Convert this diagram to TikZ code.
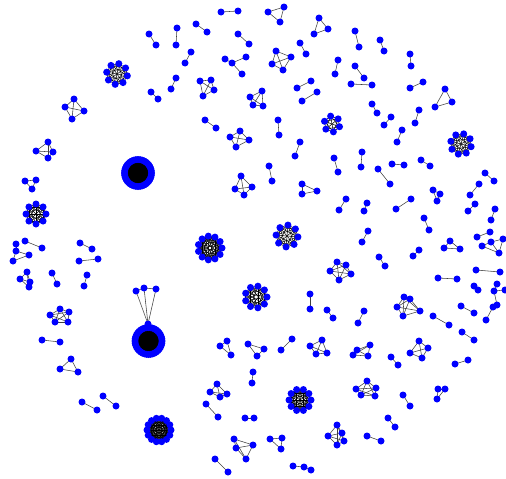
\documentclass[tikz,border=0pt]{standalone}
\pgfdeclarelayer{bg}
\pgfsetlayers{bg,main}
\tikzset{vx/.style={circle,fill=blue,draw=none,inner sep=0pt,minimum size=7pt},
ed/.style={draw=black!75,line width=0.55pt},
edd/.style={draw=black,line width=0.5pt}}
\newcommand\gcomp[3]{%
 \foreach \x/\y [count=\k] in {#2}{\node[vx] (#1-\k) at (\x,\y) {};}%
 \begin{pgfonlayer}{bg}\foreach \ia/\ib in {#3}{\draw[ed] (#1-\ia.center) -- (#1-\ib.center);}\end{pgfonlayer}}
\newcommand\gpair[2]{\gcomp{#1}{#2}{1/2}}
\newcommand\gclq[2]{%
 \foreach \x/\y [count=\k] in {#2}{\node[vx] (#1-\k) at (\x,\y) {};\xdef\gn{\k}}%
 \begin{pgfonlayer}{bg}\foreach \ia in {1,...,\gn}{\foreach \ib in {1,...,\gn}{\ifnum\ia<\ib\relax\draw[ed] (#1-\ia.center) -- (#1-\ib.center);\fi}}\end{pgfonlayer}}
\newcommand\gring[6]{%
 \foreach \k in {1,...,#4}{\pgfmathsetmacro\px{#2+#5*cos(#6+360*\k/#4)}\pgfmathsetmacro\py{#3+#5*sin(#6+360*\k/#4)}\node[vx] (#1-\k) at (\px,\py) {};}%
 \begin{pgfonlayer}{bg}\foreach \ia in {1,...,#4}{\foreach \ib in {1,...,#4}{\ifnum\ia<\ib\relax\draw[edd] (#1-\ia.center) -- (#1-\ib.center);\fi}}\end{pgfonlayer}}
\newcommand\gblob[4]{%
 \begin{pgfonlayer}{bg}\fill[black] (#2,#3) circle (#4pt);\end{pgfonlayer}%
 \foreach \k in {1,...,40}{\pgfmathsetmacro\px{#2+(#4+2.5)*cos(9*\k)}\pgfmathsetmacro\py{#3+(#4+2.5)*sin(9*\k)}\node[vx] (#1-\k) at (\px,\py) {};}}
\begin{document}
\begin{tikzpicture}[x=1pt,y=-1pt]
\begin{pgfonlayer}{bg}\fill[white] (0,0) rectangle (506,479);\end{pgfonlayer}
\useasboundingbox (0,0) rectangle (506,479);
% pairs
\gpair{p1}{149/34,156/45}
\gpair{p2}{151/92,158/99}
\gpair{p3}{221/12,238/11}
\gpair{p4}{177/28,176/45}
\gpair{p5}{196/24,207/32}
\gpair{p6}{238/34,249/44}
\gpair{p7}{300/43,306/54}
\gpair{p8}{191/52,185/63}
\gpair{p9}{338/60,335/74}
\gpair{p10}{176/78,171/89}
\gpair{p11}{311/81,297/88}
\gpair{p12}{317/92,302/101}
\gpair{p13}{205/120,216/128}
\gpair{p14}{278/120,279/135}
\gpair{p15}{300/142,295/156}
\gpair{p16}{334/158,338/172}
\gpair{p17}{355/31,359/47}
\gpair{p18}{380/40,384/51}
\gpair{p19}{410/54,411/66}
\gpair{p20}{355/66,364/78}
\gpair{p21}{351/84,372/85}
\gpair{p22}{423/82,410/88}
\gpair{p23}{372/104,377/113}
\gpair{p24}{391/117,384/125}
\gpair{p25}{419/110,415/123}
\gpair{p26}{402/130,397/142}
\gpair{p27}{362/152,361/167}
\gpair{p28}{421/160,430/166}
\gpair{p29}{25/241,42/248}
\gpair{p30}{80/243,92/249}
\gpair{p31}{79/261,98/259}
\gpair{p32}{52/273,57/284}
\gpair{p33}{87/275,84/286}
\gpair{p34}{269/166,272/181}
\gpair{p35}{310/294,310/309}
\gpair{p36}{327/310,333/318}
\gpair{p37}{378/169,390/184}
\gpair{p38}{392/164,404/165}
\gpair{p39}{485/173,494/181}
\gpair{p40}{479/184,470/195}
\gpair{p41}{346/199,339/210}
\gpair{p42}{367/203,364/211}
\gpair{p43}{411/199,396/209}
\gpair{p44}{475/204,468/211}
\gpair{p45}{495/209,491/220}
\gpair{p46}{424/218,429/230}
\gpair{p47}{368/231,362/242}
\gpair{p48}{490/232,477/237}
\gpair{p49}{419/250,413/256}
\gpair{p50}{379/257,385/266}
\gpair{p51}{476/270,500/272}
\gpair{p52}{438/278,457/279}
\gpair{p53}{474/286,478/290}
\gpair{p54}{461/306,474/313}
\gpair{p55}{364/311,358/323}
\gpair{p56}{433/316,449/325}
\gpair{p57}{42/340,60/342}
\gpair{p58}{103/396,116/406}
\gpair{p59}{82/402,97/410}
\gpair{p60}{292/339,281/350}
\gpair{p61}{253/372,252/383}
\gpair{p62}{206/404,218/417}
\gpair{p63}{245/418,254/418}
\gpair{p64}{215/459,228/472}
\gpair{p65}{462/332,474/340}
\gpair{p66}{391/357,398/365}
\gpair{p67}{468/360,455/364}
\gpair{p68}{403/395,410/406}
\gpair{p69}{388/418,395/427}
\gpair{p70}{367/436,381/441}
% triangles
\gclq{t1}{268/12,284/7,280/22}
\gclq{t2}{319/18,328/29,314/34}
\gclq{t3}{445/89,452/102,435/107}
\gclq{t4}{25/181,36/180,32/189}
\gclq{t5}{71/359,60/369,78/372}
\gclq{t6}{302/184,317/191,302/194}
\gclq{t7}{433/190,440/194,437/201}
\gclq{t8}{450/241,444/248,460/249}
\gclq{t9}{227/341,220/346,231/355}
\gclq{t10}{248/344,264/349,257/356}
\gclq{t11}{270/439,282/438,281/449}
\gclq{t12}{438/389,445/389,437/399}
\gcomp{c1}{293/466,304/467,311/470}{1/2,2/3}
\gcomp{s1}{225/59,232/63,246/57,242/74}{1/2,2/3,2/4}
% quads
\gclq{q1}{74/99,65/107,84/111,72/119}
\gclq{q2}{48/142,36/151,53/152,48/158}
\gclq{q3}{276/51,291/57,272/64,283/70}
\gclq{q4}{200/81,211/80,214/90,203/96}
\gclq{q5}{262/91,250/97,253/105,263/106}
\gclq{q6}{240/131,230/137,249/140,236/147}
\gclq{q7}{241/176,235/189,252/187,244/195}
\gcomp{q8}{16/244,16/251,29/255,13/261}{1/2,2/3,3/4,2/4}
\gclq{q9}{27/272,20/279,30/282,29/287}
\gclq{q10}{322/340,310/346,316/354,327/353}
\gclq{q11}{217/384,210/392,220/397,227/394}
\gclq{q12}{234/439,236/448,253/445,246/459}
\gclq{q13}{370/345,357/350,353/355,368/356}
\gclq{q14}{419/341,428/348,410/353,422/358}
\gcomp{q15}{491/242,503/239,482/246,499/253}{1/2,3/1,3/4,2/4,1/4}
\gcomp{r1}{497/284,494/291,505/290,497/305,493/307,486/320}{1/2,2/3,2/4,4/5,5/6}
% five-cliques
\gclq{k1}{60/309,50/315,69/312,55/322,68/322}
\gclq{k2}{337/262,346/265,351/274,339/280,330/271}
\gclq{k3}{404/297,410/299,397/307,403/316,420/311}
\gclq{k4}{367/381,356/389,376/388,361/395,375/396}
\gclq{k5}{337/425,328/436,337/445,342/433,344/441}
\gring{k6}{332}{124}{6}{8}{20}
% dense clusters
\gring{d1}{117}{74}{8}{10.5}{10}
\gring{d2}{36}{214}{8}{10}{0}
\gring{d3}{461}{144}{8}{10.5}{15}
\gring{d4}{210}{248}{11}{12}{0}
\gring{d5}{287}{236}{8}{11}{5}
\gring{d6}{256}{297}{9}{11}{0}
\gring{d7}{300}{400}{10}{11}{0}
\gring{d8}{159}{430}{14}{12}{0}
% big blobs
\gblob{b1}{138}{173}{11}
\gblob{b2}{148.5}{341}{11}
\gcomp{f}{148/324,136/291,144/288,156/289}{2/3,3/4,2/1,3/1,4/1}
\end{tikzpicture}
\end{document}
